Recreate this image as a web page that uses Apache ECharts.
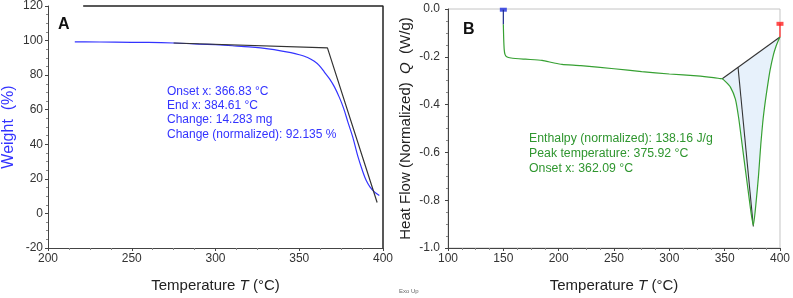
<!DOCTYPE html>
<html>
<head>
<meta charset="utf-8">
<script src="https://cdn.jsdelivr.net/npm/echarts@6/dist/echarts.min.js"></script>
<style>
html, body { margin: 0; padding: 0; background: #fff; }
#chart { width: 793px; height: 298px; }
</style>
</head>
<body>
<div id="chart"></div>
<script>
// TGA (panel A)
var tgaTemp = [216, 222, 240, 260, 275, 290, 300, 310, 320, 327, 335, 345, 350, 355, 359, 362, 365, 368, 371, 374, 376.5, 379, 382, 385, 388, 390, 392.3, 395, 397.8];
var tgaWeight = [99.2, 99.2, 99.1, 98.9, 98.6, 98.0, 97.6, 97.0, 96.4, 95.8, 94.8, 93.0, 91.8, 90.2, 88.0, 85.5, 81.8, 78.0, 73.2, 67.0, 60.8, 53.0, 44.0, 33.0, 24.0, 19.0, 15.2, 12.3, 10.4];
var tangentTemp = [275, 366.83, 396.5];
var tangentWeight = [98.6, 95.8, 6.3];
var frameTemp = [221, 400, 400];
var frameWeight = [120, 120, -20];

// DSC (panel B)
var dscTemp = [150, 150.3, 150.8, 151.5, 153, 157, 170, 185, 195, 203, 220, 250, 275, 300, 325, 340, 346];
var dscFlow = [-0.064, -0.12, -0.17, -0.19, -0.2, -0.205, -0.21, -0.215, -0.225, -0.232, -0.237, -0.25, -0.262, -0.272, -0.28, -0.287, -0.291];
var peakTemp = [347.8, 351, 355.2, 359.7, 362.7, 365.7, 368.7, 371.7, 374, 375.9, 378.5, 380.6, 382.7, 384.5, 386.6, 388.7, 391, 394.1, 396.5, 398.5, 400];
var peakFlow = [-0.292, -0.305, -0.327, -0.377, -0.457, -0.564, -0.671, -0.777, -0.857, -0.905, -0.804, -0.697, -0.564, -0.471, -0.391, -0.324, -0.257, -0.191, -0.155, -0.132, -0.117];
var baselineTemp = [347.8, 400];
var baselineFlow = [-0.292, -0.117];
var onsetTemp = [362.09, 375.92];
var onsetFlow = [-0.244, -0.91];
var startTemp = [150, 150];
var startFlow = [-0.003, -0.064];
var endTemp = [400, 400];
var endFlow = [-0.062, -0.117];

var textA = ['Onset x: 366.83 °C', 'End x: 384.61 °C', 'Change: 14.283 mg', 'Change (normalized): 92.135 %'];
var textB = ['Enthalpy (normalized): 138.16 J/g', 'Peak temperature: 375.92 °C', 'Onset x: 362.09 °C'];

function zip(xs, ys) {
	return xs.map(function(x, i) { return [x, ys[i]]; });
}

var font = 'Arial, "Liberation Sans", sans-serif';
var axisLine = { show: true, onZero: false, lineStyle: { color: '#444', width: 1 } };

var chart = echarts.init(document.getElementById('chart'));

function xAxisCfg(idx, min) {
	return {
		type: 'value', gridIndex: idx, min: min, max: 400, interval: 50,
		name: 'Temperature {i|T} (°C)', nameLocation: 'middle', nameGap: 30,
		nameTextStyle: { color: '#222', fontSize: 15, fontFamily: font,
			rich: { i: { fontStyle: 'italic', fontSize: 15, fontFamily: font, color: '#222' } } },
		axisLine: axisLine,
		axisTick: { show: true, length: 3, lineStyle: { color: '#444' } },
		minorTick: { show: true, splitNumber: 4, length: 2, lineStyle: { color: '#888' } },
		axisLabel: { margin: 5, color: '#333', fontSize: 12, fontFamily: font },
		splitLine: { show: false }
	};
}

var option = {
	animation: false,
	backgroundColor: '#fff',
	grid: [
		{ left: 45, right: 410, top: 5, bottom: 41 },
		{ left: 448, right: 10, top: 9, bottom: 39, show: true, borderColor: '#c4c4c4', borderWidth: 1 }
	],
	xAxis: [xAxisCfg(0, 200), xAxisCfg(1, 100)],
	yAxis: [
		{
			type: 'value', gridIndex: 0, min: -20, max: 120, interval: 20,
			name: 'Weight  (%)', nameLocation: 'middle', nameGap: 31,
			nameTextStyle: { color: '#3333ff', fontSize: 16, fontFamily: font },
			axisLine: axisLine,
			axisTick: { show: true, length: 3, lineStyle: { color: '#444' } },
			minorTick: { show: true, splitNumber: 4, length: 2, lineStyle: { color: '#888' } },
			axisLabel: { margin: 5, color: '#333', fontSize: 12, fontFamily: font },
			splitLine: { show: false }
		},
		{
			type: 'value', gridIndex: 1, min: -1, max: 0, interval: 0.2,
			name: 'Heat Flow (Normalized)  {i|Q}  (W/g)', nameLocation: 'middle', nameGap: 35,
			nameTextStyle: { color: '#222', fontSize: 15, fontFamily: font,
				rich: { i: { fontStyle: 'italic', fontSize: 15, fontFamily: font, color: '#222' } } },
			axisLine: axisLine,
			axisTick: { show: true, length: 3, lineStyle: { color: '#444' } },
			minorTick: { show: true, splitNumber: 4, length: 2, lineStyle: { color: '#888' } },
			axisLabel: { margin: 8, color: '#333', fontSize: 12, fontFamily: font,
				formatter: function(v) { return v.toFixed(1); } },
			splitLine: { show: false }
		}
	],
	series: [
		{
			name: 'frame', type: 'line', xAxisIndex: 0, yAxisIndex: 0, clip: false,
			data: zip(frameTemp, frameWeight), symbol: 'none',
			lineStyle: { color: '#222', width: 1.5 }
		},
		{
			name: 'weight', type: 'line', xAxisIndex: 0, yAxisIndex: 0,
			data: zip(tgaTemp, tgaWeight), symbol: 'none', smooth: 0.3,
			lineStyle: { color: '#3333ff', width: 1.2 }
		},
		{
			name: 'tangent', type: 'line', xAxisIndex: 0, yAxisIndex: 0,
			data: zip(tangentTemp, tangentWeight), symbol: 'none',
			lineStyle: { color: '#333', width: 1.2 }
		},
		{
			name: 'peak area', type: 'custom', xAxisIndex: 1, yAxisIndex: 1,
			data: [[375, -0.5]], silent: true, z: 1,
			renderItem: function(params, api) {
				var pts = peakTemp.map(function(t, i) { return api.coord([t, peakFlow[i]]); });
				return { type: 'polygon', shape: { points: pts }, style: { fill: '#e7f1fb', stroke: null } };
			}
		},
		{
			name: 'baseline', type: 'line', xAxisIndex: 1, yAxisIndex: 1,
			data: zip(baselineTemp, baselineFlow), symbol: 'none',
			lineStyle: { color: '#333', width: 1.1 }
		},
		{
			name: 'onset', type: 'line', xAxisIndex: 1, yAxisIndex: 1,
			data: zip(onsetTemp, onsetFlow), symbol: 'none',
			lineStyle: { color: '#333', width: 1.1 }
		},
		{
			name: 'heat flow', type: 'line', xAxisIndex: 1, yAxisIndex: 1, z: 3,
			data: zip(dscTemp.concat(peakTemp), dscFlow.concat(peakFlow)), symbol: 'none', smooth: 0.2,
			lineStyle: { color: '#36a032', width: 1.2 }
		},
		{
			name: 'start', type: 'line', xAxisIndex: 1, yAxisIndex: 1, clip: false,
			data: zip(startTemp, startFlow), symbol: 'none',
			lineStyle: { color: '#1a2a8a', width: 1.2 }
		},
		{
			name: 'end', type: 'line', xAxisIndex: 1, yAxisIndex: 1, clip: false,
			data: zip(endTemp, endFlow), symbol: 'none',
			lineStyle: { color: '#ff2020', width: 1.2 }
		},
		{
			name: 'markers', type: 'scatter', xAxisIndex: 1, yAxisIndex: 1, clip: false,
			data: [
				{ value: [startTemp[0], startFlow[0]], itemStyle: { color: '#2030e0' } },
				{ value: [endTemp[0], endFlow[0]], itemStyle: { color: '#ff2020' } }
			],
			symbol: 'rect', symbolSize: [7, 4]
		}
	],
	graphic: [
		{ type: 'text', left: 58, top: 17, style: { text: 'A', fill: '#111', font: 'bold 16px ' + font } },
		{ type: 'text', left: 463, top: 22, style: { text: 'B', fill: '#111', font: 'bold 16px ' + font } },
		{ type: 'text', left: 167, top: 84, style: { text: textA.join('\n'), fill: '#3333ff', font: '12px ' + font, lineHeight: 14.4 } },
		{ type: 'text', left: 529, top: 131, style: { text: textB.join('\n'), fill: '#2f962f', font: '12.3px ' + font, lineHeight: 15 } },
		{ type: 'text', left: 399, top: 288, style: { text: 'Exo Up', fill: '#666', font: '6px ' + font } }
	]
};
chart.setOption(option);
</script>
</body>
</html>
